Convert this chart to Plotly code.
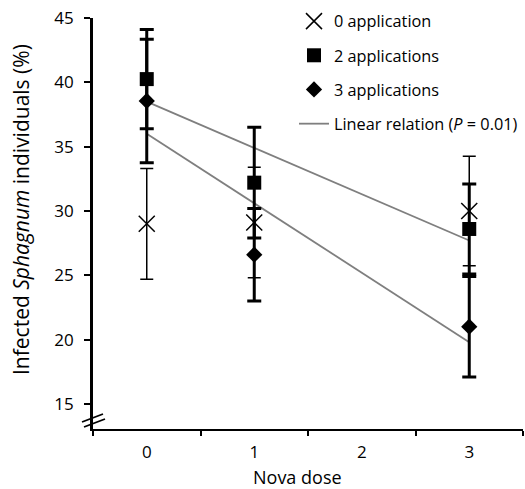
import plotly.graph_objects as go

# ---- data ----
nova_dose = [0, 1, 3]
app0_mean = [29.0, 29.1, 30.0]
app0_err = [4.3, 4.3, 4.25]
app2_mean = [40.25, 32.2, 28.6]
app2_err = [3.85, 4.3, 3.5]
app3_mean = [38.55, 26.6, 21.0]
app3_err = [4.8, 3.6, 3.9]

fit_x = [0, 3]
fit_app2 = [38.5, 27.7]
fit_app3 = [36.0, 19.8]

x_tick_vals = [0, 1, 2, 3]
x_tick_text = ["0", "1", "2", "3"]
x_boundaries = [-0.5, 0.5, 1.5, 2.5, 3.5]
y_tick_vals = [15, 20, 25, 30, 35, 40, 45]

FONT = "Open Sans"
GRAY = "#7f7f7f"

fig = go.Figure()

fig.add_trace(go.Scatter(
    x=fit_x, y=fit_app2, mode="lines", line=dict(color=GRAY, width=1.8),
    name="Linear relation (<i>P</i> = 0.01)", legendgroup="g4", legendrank=4,
    showlegend=True))
fig.add_trace(go.Scatter(
    x=fit_x, y=fit_app3, mode="lines", line=dict(color=GRAY, width=1.8),
    name="Linear relation", legendgroup="g4", showlegend=False))

fig.add_trace(go.Scatter(
    x=nova_dose, y=app0_mean, mode="markers", name="0 application",
    legendgroup="g1", legendrank=1,
    marker=dict(symbol="x-thin", size=16, color="black",
                line=dict(color="black", width=1.5)),
    error_y=dict(type="data", array=app0_err, color="black", thickness=1.5, width=6.5)))
fig.add_trace(go.Scatter(
    x=nova_dose, y=app2_mean, mode="markers", name="2 applications",
    legendgroup="g2", legendrank=2,
    marker=dict(symbol="square", size=14, color="black"),
    error_y=dict(type="data", array=app2_err, color="black", thickness=3, width=7)))
fig.add_trace(go.Scatter(
    x=nova_dose, y=app3_mean, mode="markers", name="3 applications",
    legendgroup="g3", legendrank=3,
    marker=dict(symbol="diamond", size=12.5, color="black"),
    error_y=dict(type="data", array=app3_err, color="black", thickness=3, width=7)))

L, R, T, B = 93, 2, 18, 60
W, H = 525, 489
pw, ph = W - L - R, H - T - B

def px_x(p):
    return (p - L) / pw

def px_y(p):
    return (H - B - p) / ph

fig.update_layout(
    width=W, height=H,
    margin=dict(l=L, r=R, t=T, b=B, pad=0, autoexpand=False),
    paper_bgcolor="white", plot_bgcolor="white",
    font=dict(family=FONT, size=17, color="black"),
    showlegend=True,
    legend=dict(
        x=px_x(294), y=px_y(4), xanchor="left", yanchor="top",
        bgcolor="rgba(0,0,0,0)", font=dict(family=FONT, size=16.3),
        tracegroupgap=10, traceorder="grouped",
    ),
    xaxis=dict(
        range=[-0.5, 3.5], showgrid=False, zeroline=False, automargin=False,
        showline=True, linecolor="black", linewidth=2,
        tickvals=x_tick_vals, ticktext=x_tick_text,
        ticks="outside", ticklen=7, tickcolor="rgba(0,0,0,0)",
        tickfont=dict(family=FONT, size=17),
        minor=dict(tickvals=x_boundaries, ticks="outside", ticklen=5,
                   tickwidth=1.5, tickcolor="black", showgrid=False),
    ),
    yaxis=dict(
        range=[13.05, 45.0], showgrid=False, zeroline=False, automargin=False,
        showline=True, linecolor="black", linewidth=2.6,
        tickvals=y_tick_vals, ticks="outside", ticklen=6, tickwidth=2,
        tickcolor="black", tickfont=dict(family=FONT, size=17),
        ticklabelstandoff=7,
    ),
    annotations=[
        dict(text="Infected <i>Sphagnum</i> individuals (%)", textangle=-90,
             xref="paper", yref="paper", x=px_x(21), y=px_y(210),
             xanchor="center", yanchor="middle", showarrow=False,
             font=dict(family=FONT, size=21)),
        dict(text="Nova dose", xref="paper", yref="paper",
             x=px_x(297), y=px_y(477), xanchor="center", yanchor="middle",
             showarrow=False, font=dict(family=FONT, size=18)),
    ],
    shapes=[
        dict(type="line", xref="paper", yref="paper",
             x0=px_x(82), y0=px_y(422), x1=px_x(103), y1=px_y(414),
             line=dict(color="black", width=1.8)),
        dict(type="line", xref="paper", yref="paper",
             x0=px_x(84), y0=px_y(427), x1=px_x(105), y1=px_y(419),
             line=dict(color="black", width=1.8)),
    ],
)

fig.write_html(
    "out.html",
    config={"displayModeBar": False},
    post_script="document.body.style.margin='0';document.body.style.overflow='hidden';",
)
